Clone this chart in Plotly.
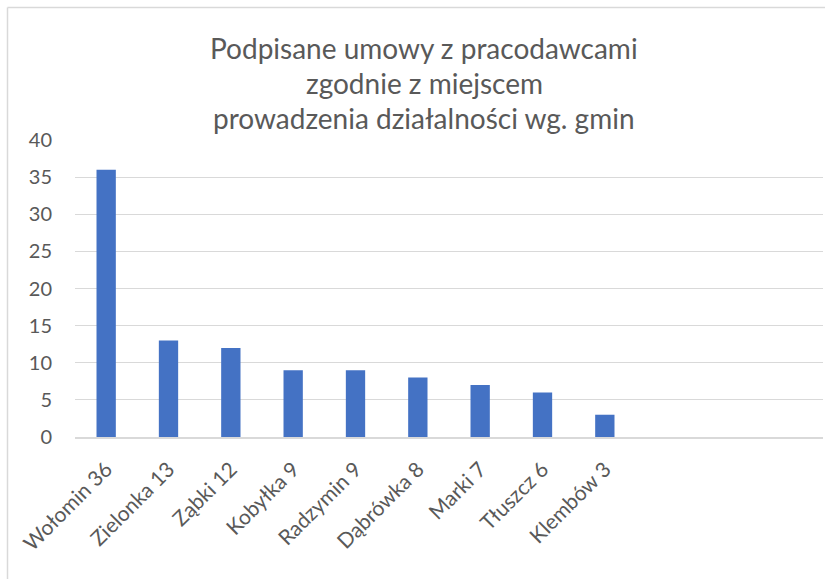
import plotly.graph_objects as go

categories = ["Wołomin 36", "Zielonka 13", "Ząbki 12", "Kobyłka 9", "Radzymin 9",
              "Dąbrówka 8", "Marki 7", "Tłuszcz 6", "Klembów 3", " ", "  ", "   "]
values = [36, 13, 12, 9, 9, 8, 7, 6, 3, None, None, None]
title_lines = ["Podpisane umowy z pracodawcami", "zgodnie z miejscem",
               "prowadzenia działalności wg. gmin"]
y_ticks = [0, 5, 10, 15, 20, 25, 30, 35, 40]

W, H = 825, 579
L, R, T, B = 75, 2, 140, 142
plot_w = W - L - R
plot_h = H - T - B

FONT = "Lato, Carlito, Calibri, sans-serif"
GRAY = "#595959"

def px_x(xp):
    return (xp - L) / plot_w

def px_y(yp):
    return (H - B - yp) / plot_h

fig = go.Figure(go.Bar(x=categories, y=values, marker_color="#4472C4",
                       marker_line_width=0))

annotations = []
for txt, ypx in zip(title_lines, [48, 83, 118]):
    annotations.append(dict(text=txt, xref="paper", yref="paper",
                            x=px_x(424), y=px_y(ypx),
                            xanchor="center", yanchor="middle", showarrow=False,
                            font=dict(family=FONT, size=28, color=GRAY)))

fig.update_layout(
    width=W, height=H,
    margin=dict(l=L, r=R, t=T, b=B, pad=0),
    paper_bgcolor="white", plot_bgcolor="white",
    showlegend=False,
    bargap=0.69,
    annotations=annotations,
    xaxis=dict(type="category", tickangle=-45, showgrid=False,
               tickfont=dict(family=FONT, size=21, color=GRAY),
               showline=True, linecolor="#d9d9d9", linewidth=1.5,
               ticks="", ticklen=0, ticklabelstandoff=10),
    yaxis=dict(range=[0, 40], tickvals=y_ticks, showgrid=True,
               gridcolor="#d9d9d9", gridwidth=1, zeroline=False,
               showline=False, ticks="", ticklabelstandoff=22,
               tickfont=dict(family=FONT, size=20, color=GRAY)),
    shapes=[
        dict(type="line", xref="paper", yref="paper",
             x0=px_x(7.5), x1=px_x(7.5), y0=px_y(7.5), y1=px_y(700),
             line=dict(color="#d9d9d9", width=1.5)),
        dict(type="line", xref="paper", yref="paper",
             x0=px_x(7.5), x1=px_x(900), y0=px_y(7.5), y1=px_y(7.5),
             line=dict(color="#d9d9d9", width=1.5)),
    ],
)

fig.write_html("out.html",
               config={"displayModeBar": False},
               post_script="document.body.style.margin='0';document.body.style.overflow='hidden';")
